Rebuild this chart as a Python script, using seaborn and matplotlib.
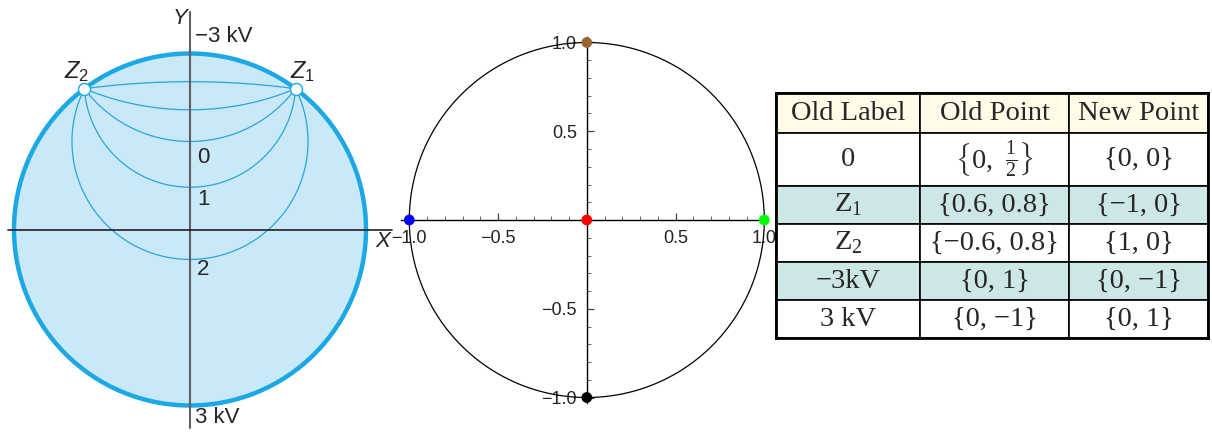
import numpy as np
import pandas as pd
import matplotlib
matplotlib.use("Agg")
import matplotlib.pyplot as plt
import seaborn as sns
from matplotlib.patches import Circle

# ---------------- data ----------------
# left panel: circles through Z1 and Z2, identified by where they cross the Y axis
arc_crossings = [0.84, 0.68, 0.50, 0.24, -0.17]
z_x = [0.6, -0.6]
z_y = [0.8, 0.8]
z_labels = [r"$Z_{\mathsf{1}}$", r"$Z_{\mathsf{2}}$"]
level_labels = ["0", "1", "2"]
level_label_y = [0.41, 0.17, -0.23]
kv_labels = ["\u22123 kV", "3 kV"]
kv_label_y = [1.094, -1.071]

# middle panel: mapped points
pt_names = ["-3kV", "Z1", "0", "Z2", "3 kV"]
pt_x = [0, -1, 0, 1, 0]
pt_y = [1, 0, 0, 0, -1]
pt_colors = ["#996633", "#0000ff", "#ff0000", "#00ff00", "#000000"]
tick_vals = [-1.0, -0.5, 0.5, 1.0]
tick_labels = ["\u22121.0", "\u22120.5", "0.5", "1.0"]

# table
col_labels = ["Old Label", "Old Point", "New Point"]
old_labels = ["0", r"$\mathrm{Z}_1$", r"$\mathrm{Z}_2$", "\u22123kV", "3 kV"]
old_points = [r"$\left\{0,\ \frac{1}{2}\right\}$", "{0.6, 0.8}", "{\u22120.6, 0.8}", "{0, 1}", "{0, \u22121}"]
new_points = ["{0, 0}", "{\u22121, 0}", "{1, 0}", "{0, \u22121}", "{0, 1}"]

# ---------------- style ----------------
sns.set_theme(style="white")
plt.rcParams["font.family"] = ["Liberation Sans", "DejaVu Sans"]
plt.rcParams["mathtext.fontset"] = "custom"
plt.rcParams["mathtext.rm"] = "Liberation Serif"
plt.rcParams["mathtext.it"] = "Liberation Sans:italic"
plt.rcParams["mathtext.sf"] = "Liberation Sans"

W, H = 1212, 432
fig = plt.figure(figsize=(W / 100, H / 100), dpi=100)

def px_axes(x0, x1, y0, y1):
    return fig.add_axes([x0 / W, 1 - y1 / H, (x1 - x0) / W, (y1 - y0) / H])

# ---------------- left panel ----------------
ox, oy, s = 190.0, 229.5, 176.0
ax1 = px_axes(0, 400, 0, 432)
ax1.set_xlim(-ox / s, (400 - ox) / s)
ax1.set_ylim((oy - 432) / s, oy / s)
ax1.axis("off")

ax1.add_patch(Circle((0, 0), 1.0, facecolor="#c9e9f9", edgecolor="#1ba8e4", lw=3.2, zorder=1))

rows = []
for i, y0 in enumerate(arc_crossings):
    c = (1 - y0 ** 2) / (1.6 - 2 * y0)
    a = np.arctan2(z_y[0] - c, z_x[0] - 0)
    if y0 < c:
        th = np.linspace(a, -np.pi - a, 200)
    else:
        th = np.linspace(a, np.pi - a, 200)
    r = abs(y0 - c)
    for t in th:
        rows.append({"arc": i, "x": r * np.cos(t), "y": c + r * np.sin(t)})
arcs = pd.DataFrame(rows)
sns.lineplot(data=arcs, x="x", y="y", units="arc", estimator=None, sort=False,
             color="#2ba4e4", lw=0.9, ax=ax1, zorder=2)

ax1.plot([0, 0], [(oy - 428) / s, (oy - 12) / s], color="#606060", lw=1.5, zorder=3)
ax1.plot([(8 - ox) / s, (392 - ox) / s], [0, 0], color="#202020", lw=1.2, zorder=3)

sns.scatterplot(x=z_x, y=z_y, s=75, color="white", edgecolor="#1ba8e4", linewidth=1.0,
                ax=ax1, zorder=5, legend=False)
ax1.set_xlabel("")
ax1.set_ylabel("")
for zx, lab in zip(z_x, z_labels):
    ax1.text(zx * 1.07, 0.895, lab, fontsize=17, ha="center", va="center", zorder=6)
for lab, ly in zip(level_labels, level_label_y):
    ax1.text(0.074, ly, lab, fontsize=16, ha="center", va="center", zorder=6)
for lab, ly in zip(kv_labels, kv_label_y):
    ax1.text(0.028, ly, lab, fontsize=16, ha="left", va="center", zorder=6)
ax1.text(-0.057, 1.20, "Y", fontsize=16, style="italic", ha="center", va="center")
ax1.text(1.097, -0.071, "X", fontsize=16, style="italic", ha="center", va="center", clip_on=False)

# ---------------- middle panel ----------------
cx, cy, s2 = 586.8, 220.0, 177.5
xl = (-1.048, 1.015)
yl = (-1.03, 1.033)
ax2 = px_axes(cx + xl[0] * s2, cx + xl[1] * s2, cy - yl[1] * s2, cy - yl[0] * s2)
ax2.set_xlim(*xl)
ax2.set_ylim(*yl)
ax2.patch.set_alpha(0)
for side in ["top", "right"]:
    ax2.spines[side].set_visible(False)
for side in ["left", "bottom"]:
    ax2.spines[side].set_position(("data", 0))
    ax2.spines[side].set_color("black")
    ax2.spines[side].set_linewidth(1.0)
t = np.linspace(0, 2 * np.pi, 400)
ax2.plot(np.cos(t), np.sin(t), color="black", lw=0.9, zorder=2)
sns.scatterplot(x=pt_x, y=pt_y, hue=pt_names, palette=dict(zip(pt_names, pt_colors)),
                s=60, edgecolor="none", ax=ax2, legend=False, zorder=5, clip_on=False)
ax2.set_xlabel("")
ax2.set_ylabel("")
ax2.set_xticks(tick_vals)
ax2.set_xticklabels(tick_labels)
ax2.set_yticks(tick_vals)
ax2.set_yticklabels(tick_labels)
minor = [v / 10 for v in range(-10, 11) if v % 5 != 0]
ax2.set_xticks(minor, minor=True)
ax2.set_yticks(minor, minor=True)
ax2.tick_params(axis="both", which="major", direction="in", length=5, width=0.9,
                labelsize=13, labelcolor="#222222", color="#444444", pad=7,
                bottom=True, left=True)
ax2.tick_params(axis="both", which="minor", direction="in", length=3, width=0.7,
                color="#666666", bottom=True, left=True)

# ---------------- table ----------------
tx0, tx1, ty0, ty1 = 776, 1208, 93, 338
ax3 = px_axes(tx0, tx1, ty0, ty1)
ax3.set_xticks([])
ax3.set_yticks([])
for sp in ax3.spines.values():
    sp.set_visible(True)
    sp.set_color("black")
    sp.set_linewidth(2.0)
ax3.set_zorder(3)

cell_text = [[a, b, c] for a, b, c in zip(old_labels, old_points, new_points)]
col_w = [144, 149, 139]
row_h = [40, 53, 38, 38, 38, 38]
row_colors = ["white", "#cde6e6", "white", "#cde6e6", "white"]
tbl = ax3.table(cellText=cell_text, colLabels=col_labels, cellLoc="center",
                colWidths=[w / sum(col_w) for w in col_w], bbox=[0, 0, 1, 1])
tbl.auto_set_font_size(False)
for (r, c), cell in tbl.get_celld().items():
    cell.set_height(row_h[r] / sum(row_h))
    cell.set_edgecolor("black")
    cell.set_linewidth(1.2)
    cell.get_text().set_fontfamily(["Liberation Serif", "DejaVu Serif"])
    cell.get_text().set_fontsize(20.5)
    if r == 0:
        cell.set_facecolor("#fffbe8")
    else:
        cell.set_facecolor(row_colors[r - 1])

fig.savefig("out.png", dpi=100)
